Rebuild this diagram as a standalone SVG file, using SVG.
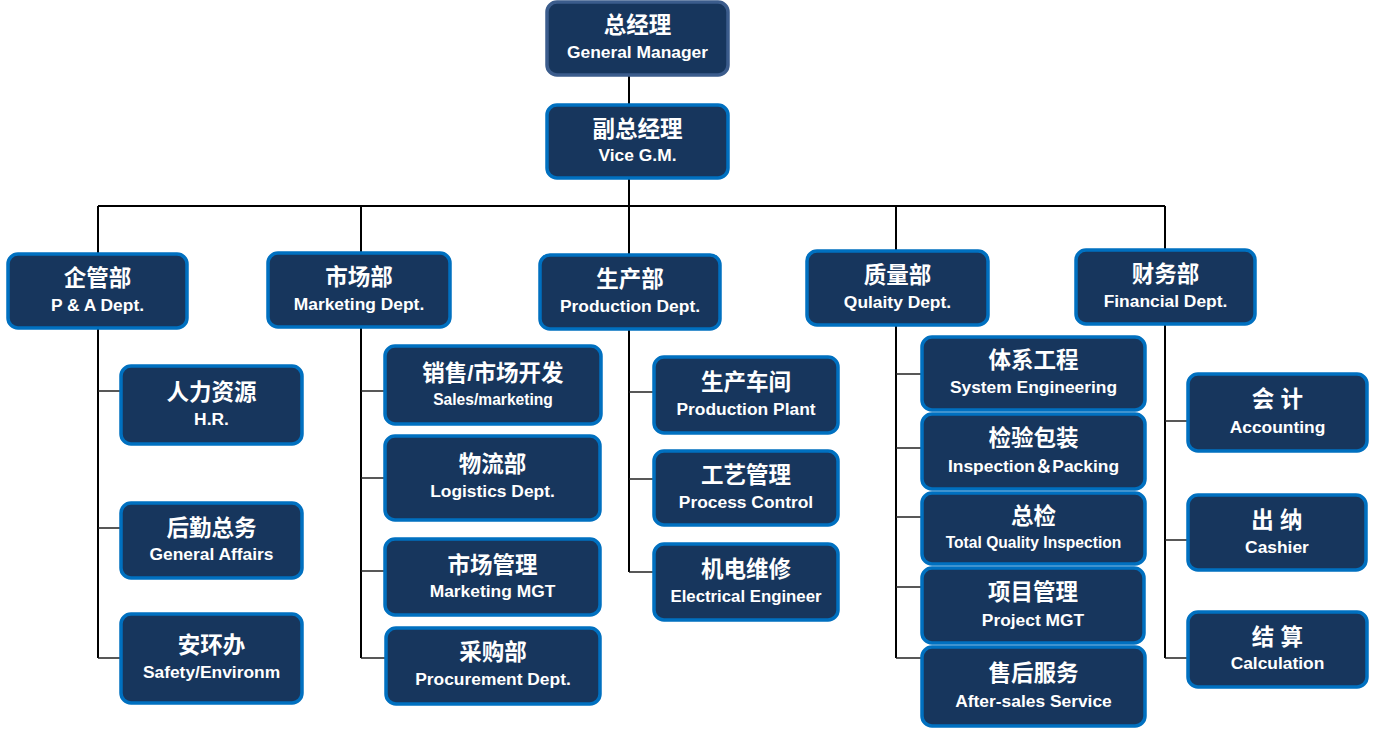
<svg xmlns="http://www.w3.org/2000/svg" width="1377" height="737" viewBox="0 0 1377 737">
<style>
.box{fill:#17365D;stroke:#0070C0;stroke-width:3.5}
.gm{stroke:#3B5C8C}
.zh{font-family:"Liberation Sans","Noto Sans CJK SC",sans-serif;font-weight:bold;font-size:22.5px;fill:#fff;text-anchor:middle}
.en{font-family:"Liberation Sans","Noto Sans CJK SC",sans-serif;font-weight:bold;font-size:17.4px;fill:#fff;text-anchor:middle}
.sm{font-size:15.6px}
.ln{stroke:#000;stroke-width:2;fill:none}
.br{stroke:#222;stroke-width:1.6;fill:none}
</style>
<rect width="1377" height="737" fill="#fff"/>
<g id="connectors">
<path class="ln" d="M629 75V105M629 178V206M98 206H1165M98 206V254M361 206V253M629 206V255M896 206V251M1165 206V250"/>
<path class="ln" d="M98 328V658M361 327V658M629 329V572M896 325V658M1165 324V658"/>
<path class="br" d="M98 391H121M98 528H121M98 658H121"/>
<path class="br" d="M361 391H385M361 478H385M361 571H385M361 658H386"/>
<path class="br" d="M629 392H654M629 479H654M629 572H654"/>
<path class="br" d="M896 374H922M896 448H922M896 517H922M896 587H922M896 658H922"/>
<path class="br" d="M1165 421H1188M1165 540H1188M1165 658H1188"/>
</g>
<g id="gm"><rect class="box gm" x="547" y="2" width="181" height="73" rx="10"/><text class="zh" x="637.5" y="33">总经理</text><text class="en" x="637.5" y="58">General Manager</text></g>
<g id="vgm"><rect class="box" x="547" y="105" width="181" height="73" rx="10"/><text class="zh" x="637.5" y="137">副总经理</text><text class="en" x="637.5" y="161">Vice G.M.</text></g>
<g id="pa"><rect class="box" x="8" y="254" width="179" height="74" rx="10"/><text class="zh" x="97.5" y="286">企管部</text><text class="en" x="97.5" y="311">P &amp; A Dept.</text></g>
<g id="mkt"><rect class="box" x="268" y="253" width="182" height="74" rx="10"/><text class="zh" x="359" y="285">市场部</text><text class="en" x="359" y="310">Marketing Dept.</text></g>
<g id="prod"><rect class="box" x="540" y="255" width="180" height="74" rx="10"/><text class="zh" x="630" y="287">生产部</text><text class="en" x="630" y="312">Production Dept.</text></g>
<g id="qa"><rect class="box" x="807" y="251" width="181" height="74" rx="10"/><text class="zh" x="897.5" y="283">质量部</text><text class="en" x="897.5" y="308">Qulaity Dept.</text></g>
<g id="fin"><rect class="box" x="1076" y="250" width="179" height="74" rx="10"/><text class="zh" x="1165.5" y="282">财务部</text><text class="en" x="1165.5" y="307">Financial Dept.</text></g>
<g id="hr"><rect class="box" x="121" y="366" width="181" height="78" rx="10"/><text class="zh" x="211.5" y="400">人力资源</text><text class="en" x="211.5" y="425">H.R.</text></g>
<g id="ga"><rect class="box" x="121" y="503" width="181" height="75" rx="10"/><text class="zh" x="211.5" y="536">后勤总务</text><text class="en" x="211.5" y="560">General Affairs</text></g>
<g id="safety"><rect class="box" x="121" y="614" width="181" height="89" rx="10"/><text class="zh" x="211.5" y="653">安环办</text><text class="en" x="211.5" y="678">Safety/Environm</text></g>
<g id="sales"><rect class="box" x="385" y="346" width="216" height="78" rx="10"/><text class="zh" x="493" y="381">销售/市场开发</text><text class="en sm" x="493" y="405">Sales/marketing</text></g>
<g id="logi"><rect class="box" x="385" y="436" width="215" height="84" rx="10"/><text class="zh" x="492.5" y="472">物流部</text><text class="en" x="492.5" y="497">Logistics Dept.</text></g>
<g id="mmgt"><rect class="box" x="385" y="539" width="215" height="76" rx="10"/><text class="zh" x="492.5" y="573">市场管理</text><text class="en" x="492.5" y="597">Marketing MGT</text></g>
<g id="proc"><rect class="box" x="386" y="628" width="214" height="76" rx="10"/><text class="zh" x="493" y="660">采购部</text><text class="en" x="493" y="685">Procurement Dept.</text></g>
<g id="plant"><rect class="box" x="654" y="357" width="184" height="76" rx="10"/><text class="zh" x="746" y="390">生产车间</text><text class="en" x="746" y="415">Production Plant</text></g>
<g id="pc"><rect class="box" x="654" y="451" width="184" height="74" rx="10"/><text class="zh" x="746" y="483">工艺管理</text><text class="en" x="746" y="508">Process Control</text></g>
<g id="ee"><rect class="box" x="654" y="544" width="184" height="76" rx="10"/><text class="zh" x="746" y="577">机电维修</text><text class="en" x="746" y="602" style="font-size:16.8px">Electrical Engineer</text></g>
<g id="se"><rect class="box" x="922" y="337" width="223" height="73" rx="10"/><text class="zh" x="1033.5" y="368">体系工程</text><text class="en" x="1033.5" y="393">System Engineering</text></g>
<g id="ip"><rect class="box" x="922" y="414" width="223" height="75" rx="10"/><text class="zh" x="1033.5" y="446">检验包装</text><text class="en" x="1033.5" y="472">Inspection＆Packing</text></g>
<g id="tqi"><rect class="box" x="922" y="493" width="223" height="71" rx="10"/><text class="zh" x="1033.5" y="524">总检</text><text class="en sm" x="1033.5" y="548">Total Quality Inspection</text></g>
<g id="pm"><rect class="box" x="922" y="568" width="222" height="75" rx="10"/><text class="zh" x="1033" y="600">项目管理</text><text class="en" x="1033" y="626">Project MGT</text></g>
<g id="as"><rect class="box" x="922" y="647" width="223" height="79" rx="10"/><text class="zh" x="1033.5" y="681">售后服务</text><text class="en" x="1033.5" y="707">After-sales Service</text></g>
<g id="acc"><rect class="box" x="1188" y="374" width="179" height="77" rx="10"/><text class="zh" x="1277.5" y="407">会  计</text><text class="en" x="1277.5" y="433">Accounting</text></g>
<g id="cash"><rect class="box" x="1188" y="495" width="178" height="75" rx="10"/><text class="zh" x="1277" y="528">出  纳</text><text class="en" x="1277" y="553">Cashier</text></g>
<g id="calc"><rect class="box" x="1188" y="612" width="179" height="75" rx="10"/><text class="zh" x="1277.5" y="645">结  算</text><text class="en" x="1277.5" y="669">Calculation</text></g>
</svg>
